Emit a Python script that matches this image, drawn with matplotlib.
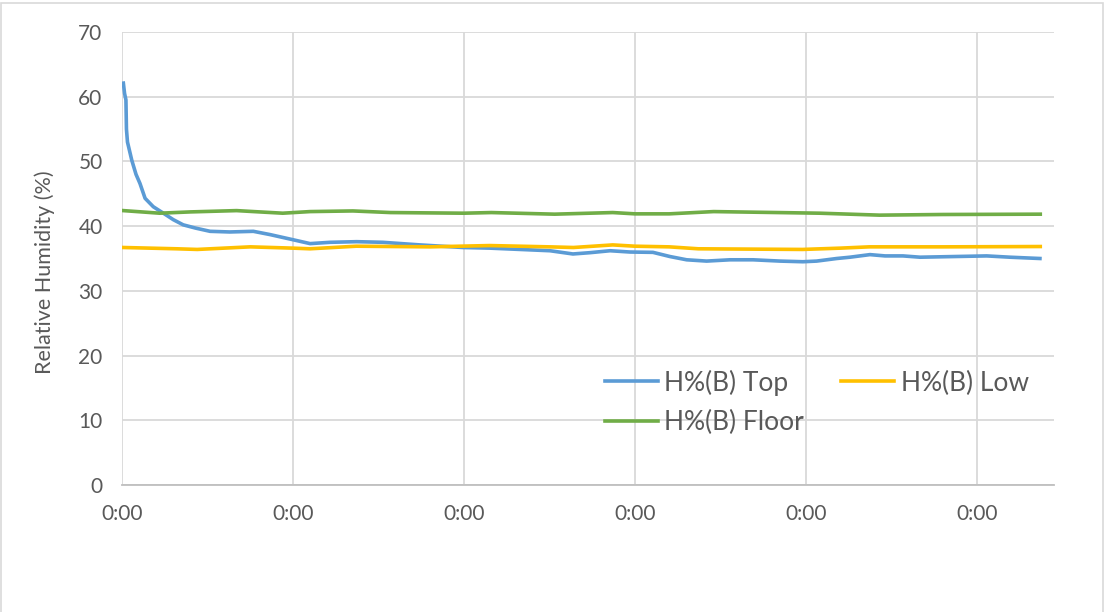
import matplotlib
matplotlib.use("Agg")
import matplotlib.pyplot as plt
from matplotlib.patches import Rectangle

# elapsed time in days (each tick is a "0:00" label)
t_top = [0.008, 0.015, 0.023, 0.026, 0.032, 0.057, 0.082, 0.105, 0.135, 0.183,
         0.242, 0.30, 0.358, 0.43, 0.515, 0.63, 0.768, 0.865, 1.0, 1.10,
         1.216, 1.372, 1.526, 1.743, 1.994, 2.152, 2.327, 2.503, 2.637, 2.737,
         2.854, 2.971, 3.105, 3.205, 3.302, 3.419, 3.556, 3.69, 3.848, 3.982,
         4.062, 4.18, 4.257, 4.374, 4.462, 4.567, 4.667, 4.86, 5.057, 5.193, 5.368]
h_top = [62.1, 60.5, 59.5, 55.0, 53.0, 50.2, 48.0, 46.6, 44.3, 43.0,
         42.0, 41.0, 40.2, 39.7, 39.2, 39.1, 39.2, 38.7, 37.9, 37.3,
         37.5, 37.6, 37.5, 37.1, 36.7, 36.6, 36.4, 36.2, 35.7, 35.9,
         36.2, 36.0, 35.95, 35.3, 34.8, 34.6, 34.8, 34.8, 34.6, 34.5,
         34.6, 35.0, 35.2, 35.6, 35.4, 35.4, 35.2, 35.3, 35.4, 35.2, 35.0]

t_low = [0.008, 0.32, 0.44, 0.75, 1.0, 1.1, 1.37, 1.8, 2.15, 2.5,
         2.64, 2.87, 3.0, 3.2, 3.37, 3.98, 4.2, 4.37, 4.8, 5.37]
h_low = [36.7, 36.5, 36.4, 36.8, 36.6, 36.5, 36.9, 36.8, 37.0, 36.8,
         36.7, 37.1, 36.9, 36.8, 36.5, 36.4, 36.6, 36.8, 36.8, 36.85]

t_floor = [0.008, 0.22, 0.4, 0.67, 0.77, 0.94, 1.1, 1.35, 1.57, 2.0,
           2.16, 2.53, 2.87, 3.0, 3.2, 3.46, 4.08, 4.43, 4.8, 5.37]
h_floor = [42.4, 42.0, 42.2, 42.4, 42.25, 42.0, 42.25, 42.35, 42.1, 42.0,
           42.1, 41.85, 42.1, 41.9, 41.9, 42.25, 42.0, 41.7, 41.8, 41.85]

x_ticks = [0, 1, 2, 3, 4, 5]
x_labels = ["0:00"] * 6

plt.rcParams['font.family'] = ['Lato', 'DejaVu Sans']
text_col = '#595959'
grid_col = '#D9D9D9'

fig = plt.figure(figsize=(11.04, 6.12), dpi=100)
ax = fig.add_axes([122 / 1104, 1 - 485 / 612, 932 / 1104, 453 / 612])

l_top, = ax.plot(t_top, h_top, color='#5B9BD5', lw=2.6, label='H%(B) Top')
l_low, = ax.plot(t_low, h_low, color='#FFC000', lw=2.6, label='H%(B) Low')
l_floor, = ax.plot(t_floor, h_floor, color='#70AD47', lw=2.6, label='H%(B) Floor')

ax.set_xlim(0, 932 / 171)
ax.set_ylim(0, 70)
ax.set_yticks(range(0, 71, 10))
ax.set_xticks(x_ticks)
ax.set_xticklabels(x_labels)
ax.grid(True, color=grid_col, lw=1.3)
ax.set_axisbelow(True)
for s in ['top', 'right', 'left']:
    ax.spines[s].set_visible(False)
ax.spines['bottom'].set_color('#BFBFBF')
ax.spines['bottom'].set_linewidth(1.3)
ax.tick_params(length=0, labelsize=15, colors=text_col, pad=14)

ax.set_ylabel("Relative Humidity (%)", fontsize=15.5, color=text_col)
ax.yaxis.set_label_coords(-0.072, 0.47)

leg = ax.legend([l_top, l_floor, l_low], ['H%(B) Top', 'H%(B) Floor', 'H%(B) Low'],
                ncol=2, loc='upper left', bbox_to_anchor=(0.518, 0.255),
                frameon=False, fontsize=19, handlelength=2.0, handletextpad=0.25,
                columnspacing=1.42, labelspacing=0.55, borderaxespad=0, borderpad=0)
for txt in leg.get_texts():
    txt.set_color(text_col)

fig.patches.append(Rectangle((1 / 1104, -0.01), 1102 / 1104, 1 - 3 / 612 + 0.01,
                             transform=fig.transFigure, fill=False,
                             edgecolor='#D9D9D9', lw=1.2))

fig.savefig("out.png", dpi=100)
